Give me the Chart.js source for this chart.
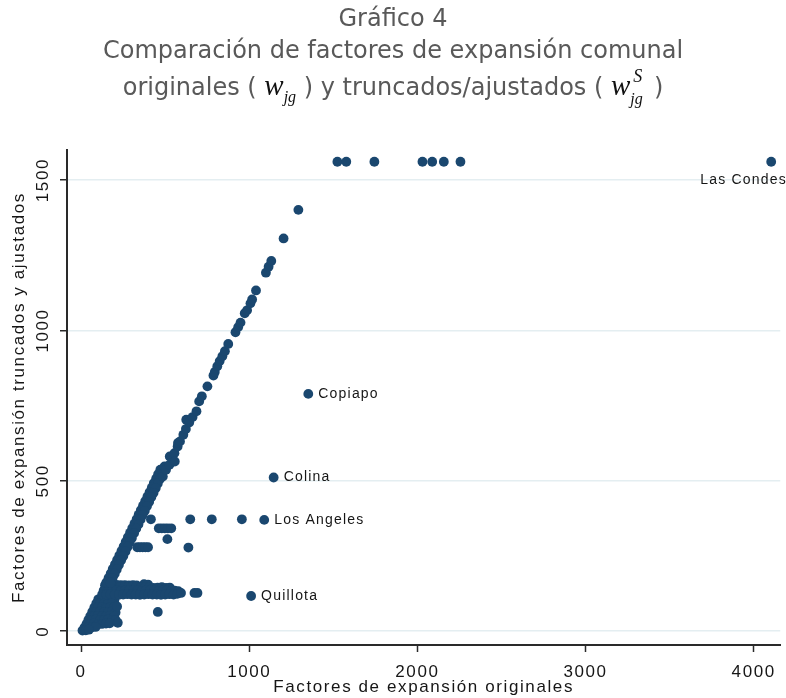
<!DOCTYPE html>
<html>
<head>
<meta charset="utf-8">
<script src="https://cdn.jsdelivr.net/npm/chart.js@4.4.1/dist/chart.umd.min.js"></script>
<style>
  body { margin: 0; background: #fff; width: 786px; height: 698px; overflow: hidden; position: relative; }
  #chart { position: absolute; left: 0; top: 0; }
  .ttl { position: absolute; left: 0; width: 786px; text-align: center; white-space: nowrap;
         font-family: "DejaVu Sans"; font-size: 24px; line-height: 30px; color: #595959; }
  .m { font-family: "Liberation Serif"; font-style: italic; font-size: 29px; color: #111; }
  .sb { font-family: "Liberation Serif"; font-style: italic; font-size: 16px; color: #111; position: relative; top: 7px; }
  .ss { display: inline-block; position: relative; width: 16px; height: 10px; font-family: "Liberation Serif";
        font-style: italic; font-size: 16px; line-height: 16px; color: #111; }
  .ss .sp { position: absolute; left: 3px; top: -17px; font-size: 18px; }
  .ss .sd { position: absolute; left: 0; top: 6px; }
</style>
</head>
<body>
<canvas id="chart" width="786" height="698"></canvas>
<div class="ttl" style="top:3px">Gráfico 4</div>
<div class="ttl" style="top:35px">Comparación de factores de expansión comunal</div>
<div class="ttl" style="top:70px">originales ( <span class="m">w</span><span class="sb">jg</span> ) y truncados/ajustados ( <span class="m">w</span><span class="ss"><span class="sp">S</span><span class="sd">jg</span></span> )</div>
<script>
// axis ticks
const xTicks = [0, 1000, 2000, 3000, 4000];
const yTicks = [0, 500, 1000, 1500];

// comunas on the main diagonal (upper, sparser part)
const diagX = [486, 496, 505, 525, 527, 545, 555, 557, 574, 576, 588, 608, 623, 625, 643, 663, 686, 702, 718, 751,
               787, 795, 810, 824, 840, 855, 875, 918, 934, 948, 973, 987, 1007, 1017, 1040, 1099, 1115, 1131, 1204, 1292];
const diagY = [514, 548, 537, 553, 581, 572, 592, 564, 614, 626, 631, 653, 672, 703, 694, 712, 731, 764, 781, 814,
               850, 862, 881, 898, 914, 931, 955, 994, 1011, 1026, 1057, 1067, 1090, 1103, 1133, 1192, 1212, 1231, 1306, 1401];

// dense lower part of the diagonal
const bandX = [471, 495, 458, 482, 446, 469, 432, 456, 420, 444, 407, 431, 394, 418, 381, 405, 368, 392, 355, 379,
               342, 366, 330, 354, 317, 341, 304, 328, 291, 315, 278, 302, 265, 289, 253, 277, 240, 264, 227, 251,
               214, 238, 201, 225, 188, 212, 176, 200, 163, 187, 150, 174];
const bandY = [537, 535, 522, 520, 507, 506, 492, 491, 477, 476, 462, 460, 447, 446, 432, 430, 417, 416, 402, 400,
               387, 386, 372, 371, 357, 355, 342, 341, 327, 326, 312, 310, 297, 296, 282, 281, 267, 265, 252, 250,
               237, 236, 222, 221, 207, 205, 192, 191, 177, 176, 162, 161];

// horizontal block of truncated values around 120-155
const rowX = [142, 165, 188, 212, 236, 260, 284, 308, 330, 374, 398,
              355, 380, 405, 430, 455, 480, 505, 527,
              134, 160, 185, 210, 235, 260, 285, 310, 335, 360, 385, 410, 435, 460, 485, 510, 535, 556, 578,
              125, 150, 175, 200, 225, 250, 275, 300, 325, 350, 375, 400, 425, 450, 475, 500, 525, 550, 572, 594,
              674, 692];
const rowY = [153, 153, 153, 154, 153, 153, 152, 153, 152, 156, 155,
              145, 146, 145, 144, 145, 146, 144, 145,
              135, 136, 135, 135, 134, 135, 136, 135, 135, 134, 135, 136, 135, 134, 135, 135, 134, 135, 133,
              122, 122, 123, 122, 121, 122, 123, 122, 122, 121, 122, 123, 122, 122, 121, 122, 123, 122, 124, 127,
              127, 127];

// small comunas near the origin
const wedgeX = [102, 125, 150, 175, 198, 90, 112, 136, 160, 184, 78, 100, 124, 148, 172, 196,
                66, 88, 112, 136, 160, 184, 205, 54, 76, 100, 124, 148, 172, 196,
                43, 65, 88, 112, 136, 160, 184, 205, 32, 54, 76, 100, 124, 148, 170,
                20, 42, 64, 86, 8, 28, 46, 214, 218, 456];
const wedgeY = [106, 106, 105, 106, 104, 92, 92, 93, 91, 92, 78, 78, 79, 77, 78, 80,
                64, 64, 65, 63, 64, 65, 62, 50, 50, 51, 49, 50, 51, 48,
                37, 37, 38, 36, 37, 38, 36, 37, 24, 24, 25, 23, 24, 25, 26,
                12, 12, 13, 14, 2, 3, 5, 82, 28, 64];

// intermediate rows
const midX = [415, 649, 777, 956, 462, 480, 498, 516, 536, 513, 334, 350, 366, 382, 398, 638];
const midY = [372, 372, 372, 372, 342, 342, 342, 342, 342, 306, 279, 279, 279, 279, 279, 278];

// truncated at the upper cap
const capX = [1524, 1577, 1744, 2030, 2088, 2157, 2256];
const capY = [1561, 1561, 1561, 1561, 1561, 1561, 1561];

// labelled comunas
const namedNames = ["Las Condes", "Copiapo", "Colina", "Los Angeles", "Quillota"];
const namedX = [4104, 1351, 1145, 1089, 1011];
const namedY = [1561, 789, 511, 370, 117];

const markerColor = "#1a476f";
const ink = "#161616";

function toPoints(xs, ys) {
  return xs.map((x, i) => ({ x: x, y: ys[i] }));
}

const groups = [
  [diagX, diagY], [bandX, bandY], [rowX, rowY], [wedgeX, wedgeY],
  [midX, midY], [capX, capY], [namedX, namedY]
];

const datasets = groups.map((g) => ({
  data: toPoints(g[0], g[1]),
  backgroundColor: markerColor,
  borderWidth: 0,
  pointRadius: 4.9,
  pointHoverRadius: 4.9,
  clip: false,
}));

// Stata style spread-out axis text
const spacing = {
  id: "spacing",
  beforeLayout(chart) { chart.ctx.letterSpacing = "1.6px"; },
  beforeDraw(chart) { chart.ctx.letterSpacing = "1.6px"; },
};

// marker labels
const labelOffsets = { "Las Condes": [-71, 18] };
const markerLabels = {
  id: "markerLabels",
  afterDatasetsDraw(chart) {
    const { ctx, scales } = chart;
    ctx.save();
    ctx.font = '14px "Liberation Sans"';
    ctx.letterSpacing = "1.2px";
    ctx.fillStyle = ink;
    ctx.textBaseline = "middle";
    ctx.textAlign = "left";
    namedNames.forEach((name, i) => {
      const px = scales.x.getPixelForValue(namedX[i]);
      const py = scales.y.getPixelForValue(namedY[i]);
      const off = labelOffsets[name] || [10, 0];
      ctx.fillText(name, px + off[0], py + off[1]);
    });
    ctx.restore();
  },
};

const axisFont = { family: "Liberation Sans", size: 17 };

new Chart(document.getElementById("chart").getContext("2d"), {
  type: "scatter",
  data: { datasets: datasets },
  plugins: [spacing, markerLabels],
  options: {
    responsive: false,
    animation: false,
    devicePixelRatio: 1,
    layout: { padding: { top: 150, left: 0, right: 0, bottom: 0 } },
    plugins: { legend: { display: false }, tooltip: { enabled: false } },
    scales: {
      x: {
        type: "linear",
        min: -84,
        max: 4158,
        afterBuildTicks: (s) => { s.ticks = xTicks.map((v) => ({ value: v })); },
        afterFit: (s) => { s.height = 53; },
        border: { display: true, color: "#2a2a2a", width: 2 },
        grid: { drawOnChartArea: false, drawTicks: true, tickLength: 7, tickColor: "#2a2a2a", tickWidth: 1.5 },
        ticks: { font: axisFont, color: ink, padding: 10, maxRotation: 0, autoSkip: false,
                 callback: (v) => String(v) },
        title: { display: true, text: "Factores de expansión originales", font: axisFont, color: ink,
                 padding: { top: 0, bottom: 0 } },
      },
      y: {
        type: "linear",
        min: -46,
        max: 1600,
        afterBuildTicks: (s) => { s.ticks = yTicks.map((v) => ({ value: v })); },
        afterFit: (s) => { s.width = 67; },
        border: { display: true, color: "#2a2a2a", width: 2 },
        grid: { color: "#e4eef1", lineWidth: 1.5, drawTicks: true, tickLength: 7, tickColor: "#2a2a2a", tickWidth: 1.5 },
        ticks: { font: axisFont, color: ink, minRotation: 90, maxRotation: 90, crossAlign: "center", padding: -5,
                 autoSkip: false, callback: (v) => String(v) },
        title: { display: true, text: "Factores de expansión truncados y ajustados", font: axisFont, color: ink,
                 padding: { top: 9, bottom: 0 } },
      },
    },
  },
});
</script>
</body>
</html>
